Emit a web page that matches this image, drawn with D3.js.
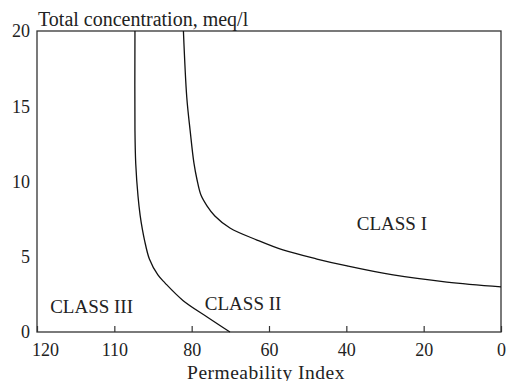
<!DOCTYPE html>
<style>
  body { margin: 0; background: white; }
  svg { display: block; font-family: "Liberation Serif", serif; }
  .tick text { font-family: "Liberation Serif", serif; font-size: 18px; fill: #222; }
</style>
<body>
</body>
<script src="https://cdn.jsdelivr.net/npm/d3@7"></script>
<script>
  // x axis is not linear in the source: evenly spaced labels
  const piTicks = [120, 110, 80, 60, 40, 20, 0];
  const concTicks = [0, 5, 10, 15, 20];

  // boundary curves [permeability index, total concentration]
  const lowerCurve = [[102, 20], [102, 13.4], [101.7, 11.2], [100.8, 9.0], [100, 7.77],
    [99.1, 6.8], [98.3, 6.11], [96.4, 4.85], [93.1, 3.79], [90.3, 3.25], [83.4, 2.1],
    [76, 1.0], [70.1, 0]];
  const upperCurve = [[83.2, 20], [81.9, 15.6], [80.6, 13.4], [79.4, 11.2], [78.6, 10.1],
    [77.6, 9.1], [76, 8.37], [74, 7.71], [70.1, 6.91], [63.1, 6.11], [56.4, 5.45],
    [47.6, 4.85], [39.8, 4.39], [27.9, 3.79], [14, 3.32], [0, 3.0]];

  const classLabels = [
    {text: 'CLASS I', pi: 37.3, conc: 6.8},
    {text: 'CLASS II', pi: 76.6, conc: 1.45},
    {text: 'CLASS III', pi: 118.3, conc: 1.25},
  ];

  const w = 508, h = 381;
  const l = 37, r = 501, t = 31, b = 332;

  const svg = d3.select('body').append('svg')
    .attr('width', w)
    .attr('height', h);

  const step = (r - l) / (piTicks.length - 1);
  const x = d3.scaleLinear()
    .domain(piTicks)
    .range(piTicks.map((d, i) => l + i * step));
  const y = d3.scaleLinear().domain([0, 20]).range([b, t]);

  const xAxis = svg.append('g')
    .attr('transform', `translate(0, ${b})`)
    .call(d3.axisBottom(x).tickValues(piTicks).tickFormat(d3.format('d'))
      .tickSize(-6).tickPadding(11));
  xAxis.attr('font-family', null);
  xAxis.select('.domain').remove();
  xAxis.selectAll('.tick line').attr('stroke', '#333').attr('stroke-width', 1.2);
  xAxis.selectAll('.tick text').filter(d => d === 120).attr('dx', 8);

  const yAxis = svg.append('g')
    .attr('transform', `translate(${l}, 0)`)
    .call(d3.axisLeft(y).tickValues(concTicks).tickSize(0).tickPadding(7));
  yAxis.attr('font-family', null);
  yAxis.select('.domain').remove();

  svg.append('rect')
    .attr('x', l).attr('y', t)
    .attr('width', r - l).attr('height', b - t)
    .attr('fill', 'none')
    .attr('stroke', '#333')
    .attr('stroke-width', 1.3);

  const line = d3.line()
    .x(d => x(d[0]))
    .y(d => y(d[1]))
    .curve(d3.curveCatmullRom.alpha(0.5));

  svg.selectAll('path.boundary')
    .data([lowerCurve, upperCurve])
    .join('path')
      .attr('class', 'boundary')
      .attr('d', line)
      .attr('fill', 'none')
      .attr('stroke', '#111')
      .attr('stroke-width', 1.3);

  svg.selectAll('text.cls')
    .data(classLabels)
    .join('text')
      .attr('class', 'cls')
      .attr('x', d => x(d.pi))
      .attr('y', d => y(d.conc))
      .attr('font-size', 19)
      .attr('fill', '#222')
      .text(d => d.text);

  svg.append('text')
    .attr('x', l + 1)
    .attr('y', 26)
    .attr('font-size', 20)
    .attr('fill', '#222')
    .text('Total concentration, meq/l');

  svg.append('text')
    .attr('x', (l + r) / 2 - 3)
    .attr('y', 379)
    .attr('text-anchor', 'middle')
    .attr('font-size', 19.5)
    .attr('letter-spacing', 0.5)
    .attr('fill', '#222')
    .text('Permeability Index');
</script>
